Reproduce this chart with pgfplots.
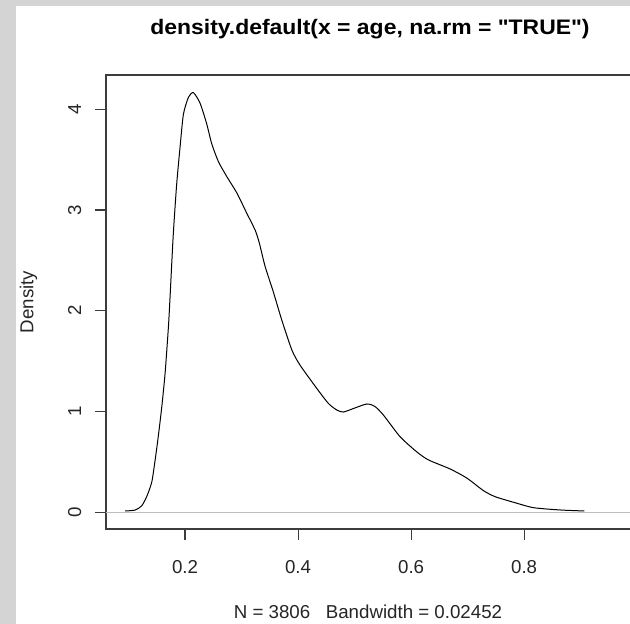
\documentclass[border=0pt]{standalone}
\usepackage{fontspec}
\setmainfont{Liberation Sans}
\newfontfamily\rfont{Liberation Sans}
\usepackage{graphicx}
\usepackage{pgfplots}
\pgfplotsset{compat=1.18}
\definecolor{bggray}{RGB}{212,212,212}
\definecolor{rgray}{RGB}{190,190,190}
\definecolor{boxc}{RGB}{60,60,60}
\begin{document}
\begin{tikzpicture}[x=1pt,y=1pt]
\path[use as bounding box, fill=white] (-106,-95) rectangle (524,529);
\fill[bggray] (-106,-95) rectangle (-89.5,529);
\fill[bggray] (-106,522.5) rectangle (524,529);
\begin{axis}[
  at={(0,0)}, anchor=south west,
  scale only axis, width=540pt, height=454pt,
  xmin=0.060, xmax=1.01575, ymin=-0.1658, ymax=4.340,
  xtick={0.2,0.4,0.6,0.8}, ytick={0,1,2,3,4},
  xticklabels={0.2,0.4,0.6,0.8}, yticklabels={0,1,2,3,4},
  tick align=outside, major tick length=11pt,
  xtick pos=bottom, ytick pos=left,
  axis line style={draw=boxc, line width=1.2pt},
  tick style={draw=boxc, line width=1.2pt},
  /pgf/number format/assume math mode=true,
  tick label style={font=\fontsize{18.7}{22}\selectfont, text=black!85},
  xticklabel style={anchor=center, yshift=-27.3pt},
  yticklabel style={xshift=-20.3pt, rotate=90, anchor=center},
  ylabel={Density},
  ylabel style={at={(axis description cs:-0.1435,0.5)}, anchor=center, font=\fontsize{18.7}{22}\selectfont, text=black!85},
  clip=false,
]
\addplot[rgray, line width=1pt] coordinates {(0.060,0) (1.01575,0)};
\addplot[black, line width=1pt, smooth, tension=0.4] coordinates {
(0.094,0.013) (0.1115,0.022) (0.123,0.063) (0.132,0.155) (0.141,0.30)
(0.147,0.52) (0.1527,0.76) (0.1588,1.05) (0.1646,1.38) (0.1706,1.85)
(0.1735,2.15) (0.179,2.75) (0.185,3.25) (0.191,3.62) (0.197,3.95)
(0.206,4.12) (0.2147,4.165) (0.2265,4.06) (0.238,3.86) (0.247,3.66)
(0.259,3.48) (0.274,3.33) (0.2915,3.17) (0.309,2.97) (0.324,2.80)
(0.3315,2.67) (0.3416,2.44) (0.356,2.19) (0.371,1.91) (0.389,1.61)
(0.4035,1.46) (0.433,1.23) (0.4537,1.08) (0.4685,1.015) (0.480,0.995)
(0.498,1.03) (0.5216,1.075) (0.536,1.05) (0.551,0.965) (0.5805,0.75)
(0.610,0.60) (0.6306,0.52) (0.669,0.43) (0.6986,0.34) (0.728,0.215)
(0.7487,0.155) (0.781,0.10) (0.8165,0.046) (0.8637,0.023) (0.9067,0.013)
};
\end{axis}
\node[anchor=center, inner sep=0pt, font=\rfont\bfseries\fontsize{21}{25}\selectfont] at (264,499.8) {\scalebox{1.092}[1]{density.default(x = age, na.rm = "TRUE")}};
\node[anchor=center, inner sep=0pt, font=\rfont\fontsize{18.7}{22}\selectfont, text=black!85] at (262,-82.8) {N = 3806\ \ \ Bandwidth = 0.02452};
\end{tikzpicture}
\end{document}
